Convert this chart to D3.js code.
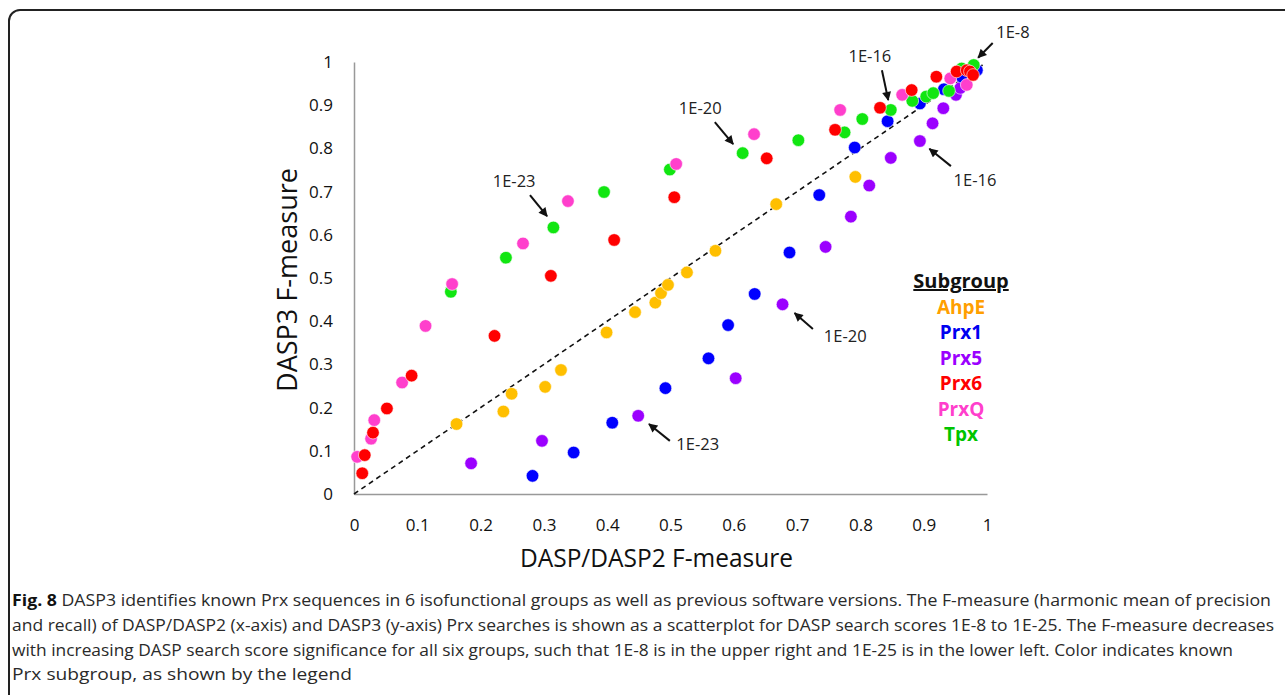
<!DOCTYPE html>
<html>
<head>
<meta charset="utf-8">
<script src="https://cdn.jsdelivr.net/npm/d3@7"></script>
<style>
  body { margin: 0; background: #fff; }
  text { font-family: "Open Sans", sans-serif; }
</style>
</head>
<body>
<div id="chart"></div>
<script>
// values, [DASP/DASP2, DASP3]
var ahpe = [[0.162,0.162],[0.236,0.191],[0.249,0.232],[0.302,0.248],[0.327,0.287],[0.399,0.374],[0.444,0.421],[0.476,0.443],[0.485,0.465],[0.496,0.484],[0.526,0.513],[0.571,0.563],[0.667,0.671],[0.792,0.734]];
var prx1 = [[0.282,0.042],[0.347,0.096],[0.408,0.165],[0.492,0.245],[0.560,0.314],[0.591,0.391],[0.633,0.463],[0.688,0.559],[0.735,0.692],[0.791,0.802],[0.843,0.863],[0.894,0.904],[0.932,0.937],[0.960,0.966],[0.984,0.981]];
var prx5 = [[0.185,0.071],[0.297,0.123],[0.449,0.181],[0.603,0.268],[0.677,0.439],[0.745,0.572],[0.785,0.642],[0.814,0.714],[0.848,0.778],[0.894,0.817],[0.914,0.858],[0.931,0.893],[0.951,0.924],[0.958,0.940]];
var prx6 = [[0.013,0.048],[0.017,0.090],[0.030,0.142],[0.052,0.198],[0.091,0.274],[0.222,0.366],[0.311,0.505],[0.411,0.588],[0.506,0.687],[0.652,0.777],[0.760,0.843],[0.831,0.894],[0.881,0.935],[0.920,0.966],[0.952,0.978],[0.968,0.981],[0.973,0.978],[0.978,0.970]];
var prxq = [[0.005,0.086],[0.027,0.128],[0.032,0.171],[0.076,0.258],[0.113,0.389],[0.155,0.486],[0.267,0.580],[0.338,0.678],[0.509,0.764],[0.632,0.833],[0.768,0.889],[0.866,0.924],[0.942,0.962],[0.968,0.947]];
var tpx = [[0.153,0.468],[0.240,0.547],[0.315,0.617],[0.395,0.699],[0.499,0.751],[0.614,0.789],[0.702,0.819],[0.775,0.837],[0.803,0.868],[0.848,0.889],[0.882,0.910],[0.904,0.920],[0.915,0.928],[0.940,0.933],[0.960,0.985],[0.979,0.993]];

var groups = ["AhpE", "Prx1", "Prx5", "Prx6", "PrxQ", "Tpx"];
var xTicks = [0, 0.1, 0.2, 0.3, 0.4, 0.5, 0.6, 0.7, 0.8, 0.9, 1];
var yTicks = [0, 0.1, 0.2, 0.3, 0.4, 0.5, 0.6, 0.7, 0.8, 0.9, 1];

// score labels: text position, arrow start, arrow end (data units)
var notes = [
  { label: "1E-8",  text: [1.041, 1.069], from: [1.009, 1.044], to: [0.986, 1.010] },
  { label: "1E-16", text: [0.815, 1.014], from: [0.834, 0.981], to: [0.844, 0.912] },
  { label: "1E-16", text: [0.981, 0.727], from: [0.943, 0.759], to: [0.909, 0.799] },
  { label: "1E-20", text: [0.547, 0.894], from: [0.570, 0.861], to: [0.599, 0.810] },
  { label: "1E-20", text: [0.776, 0.366], from: [0.725, 0.382], to: [0.696, 0.419] },
  { label: "1E-23", text: [0.253, 0.725], from: [0.278, 0.692], to: [0.305, 0.643] },
  { label: "1E-23", text: [0.543, 0.116], from: [0.499, 0.123], to: [0.466, 0.162] }
];

var caption = [
  "DASP3 identifies known Prx sequences in 6 isofunctional groups as well as previous software versions. The F-measure (harmonic mean of precision",
  "and recall) of DASP/DASP2 (x-axis) and DASP3 (y-axis) Prx searches is shown as a scatterplot for DASP search scores 1E-8 to 1E-25. The F-measure decreases",
  "with increasing DASP search score significance for all six groups, such that 1E-8 is in the upper right and 1E-25 is in the lower left. Color indicates known",
  "Prx subgroup, as shown by the legend"
];
// right edge of each caption line in the figure
var captionEnds = [1271, 1274, 1233, 352];

var dotColor = { AhpE: "#ffbf00", Prx1: "#0000ff", Prx5: "#9b00ff", Prx6: "#ff0000", PrxQ: "#ff3fcc", Tpx: "#11e611" };
var textColor = { AhpE: "#ff9f00", Prx1: "#0000f0", Prx5: "#9b00ff", Prx6: "#ff0000", PrxQ: "#ff3fcc", Tpx: "#00c400" };
var seriesData = { AhpE: ahpe, Prx1: prx1, Prx5: prx5, Prx6: prx6, PrxQ: prxq, Tpx: tpx };
var drawOrder = ["AhpE", "Prx5", "Prx1", "Tpx", "PrxQ", "Prx6"];

var W = 1285, H = 695;
var margin = { top: 62, left: 354 },
    width = 633,
    height = 432;

var x = d3.scaleLinear().domain([0, 1]).range([0, width]);
var y = d3.scaleLinear().domain([0, 1]).range([height, 0]);

var svg = d3.select("#chart")
  .append("svg")
  .attr("width", W)
  .attr("height", H);

// figure frame
svg.append("rect")
  .attr("x", 9).attr("y", 10)
  .attr("width", W + 20).attr("height", H + 20)
  .attr("rx", 11)
  .attr("fill", "none")
  .attr("stroke", "#222")
  .attr("stroke-width", 2);

svg.append("defs").append("marker")
  .attr("id", "head")
  .attr("viewBox", "0 0 10 10")
  .attr("refX", 9).attr("refY", 5)
  .attr("markerWidth", 5).attr("markerHeight", 4.5)
  .attr("markerUnits", "strokeWidth")
  .attr("orient", "auto")
  .append("path")
  .attr("d", "M0,0 L10,5 L0,10 Z")
  .attr("fill", "#111");

var g = svg.append("g")
  .attr("transform", "translate(" + margin.left + "," + margin.top + ")");

//axes
var xAxis = d3.axisBottom(x).tickValues(xTicks).tickSize(0).tickPadding(25)
  .tickFormat(function (d) { return d3.format("~g")(d); });
var yAxis = d3.axisLeft(y).tickValues(yTicks).tickSize(0).tickPadding(21)
  .tickFormat(function (d) { return d3.format("~g")(d); });

g.append("g")
  .attr("transform", "translate(0," + height + ")")
  .call(xAxis)
  .call(function (s) {
    s.select(".domain").attr("stroke", "#999").attr("stroke-width", 1.5);
    s.selectAll("text").attr("font-size", 17).attr("fill", "#111").attr("font-family", "Open Sans");
  });

g.append("g")
  .call(yAxis)
  .call(function (s) {
    s.select(".domain").attr("stroke", "#999").attr("stroke-width", 1.5);
    s.selectAll("text").attr("font-size", 17).attr("fill", "#111").attr("font-family", "Open Sans");
  });

// 1:1 line
g.append("line")
  .attr("x1", x(0)).attr("y1", y(0))
  .attr("x2", x(0.995)).attr("y2", y(0.995))
  .attr("stroke", "#111")
  .attr("stroke-width", 1.6)
  .attr("stroke-dasharray", "5,4");

// points
drawOrder.forEach(function (name) {
  g.selectAll(".dot-" + name)
    .data(seriesData[name])
    .enter()
    .append("circle")
    .attr("class", "dot-" + name)
    .attr("cx", function (d) { return x(d[0]); })
    .attr("cy", function (d) { return y(d[1]); })
    .attr("r", 6.3)
    .attr("fill", dotColor[name])
    .attr("stroke", "#fff")
    .attr("stroke-width", 0.6);
});

// annotations
var note = g.selectAll(".note").data(notes).enter().append("g").attr("class", "note");
note.append("text")
  .attr("x", function (d) { return x(d.text[0]); })
  .attr("y", function (d) { return y(d.text[1]) + 6; })
  .attr("text-anchor", "middle")
  .attr("font-size", 16.5)
  .attr("fill", "#222")
  .text(function (d) { return d.label; });
note.append("line")
  .attr("x1", function (d) { return x(d.from[0]); })
  .attr("y1", function (d) { return y(d.from[1]); })
  .attr("x2", function (d) { return x(d.to[0]); })
  .attr("y2", function (d) { return y(d.to[1]); })
  .attr("stroke", "#111")
  .attr("stroke-width", 2)
  .attr("marker-end", "url(#head)");

// axis titles
svg.append("text")
  .attr("x", margin.left + width / 2 - 14)
  .attr("y", 567)
  .attr("text-anchor", "middle")
  .attr("font-size", 26)
  .attr("fill", "#111")
  .attr("textLength", 273)
  .attr("lengthAdjust", "spacingAndGlyphs")
  .text("DASP/DASP2 F-measure");

svg.append("text")
  .attr("transform", "translate(297,280) rotate(-90)")
  .attr("text-anchor", "middle")
  .attr("font-size", 27)
  .attr("fill", "#111")
  .attr("textLength", 224)
  .attr("lengthAdjust", "spacingAndGlyphs")
  .text("DASP3 F-measure");

// legend
var lg = svg.append("g").attr("transform", "translate(961,0)");
lg.append("text")
  .attr("x", 0).attr("y", 288)
  .attr("text-anchor", "middle")
  .attr("font-size", 20)
  .attr("font-weight", "bold")
  .attr("fill", "#111")
  .attr("text-decoration", "underline")
  .text("Subgroup");
lg.selectAll(".item")
  .data(groups)
  .enter()
  .append("text")
  .attr("class", "item")
  .attr("x", 0)
  .attr("y", function (d, i) { return 314 + i * 25.4; })
  .attr("text-anchor", "middle")
  .attr("font-size", 19)
  .attr("font-weight", "bold")
  .attr("fill", function (d) { return textColor[d]; })
  .text(function (d) { return d; });

// caption
var cap = svg.append("g");
var lines = cap.selectAll("text")
  .data(caption)
  .enter()
  .append("text")
  .attr("x", 12)
  .attr("y", function (d, i) { return 606 + i * 24.8; })
  .attr("font-size", 16.5)
  .attr("fill", "#2a2a2a");
lines.each(function (d, i) {
  var t = d3.select(this);
  if (i === 0) {
    t.append("tspan").attr("font-weight", "bold").attr("fill", "#111").text("Fig. 8");
    t.append("tspan").text(" " + d);
  } else {
    t.text(d);
  }
  t.attr("textLength", captionEnds[i] - 12).attr("lengthAdjust", "spacingAndGlyphs");
});
</script>
</body>
</html>
